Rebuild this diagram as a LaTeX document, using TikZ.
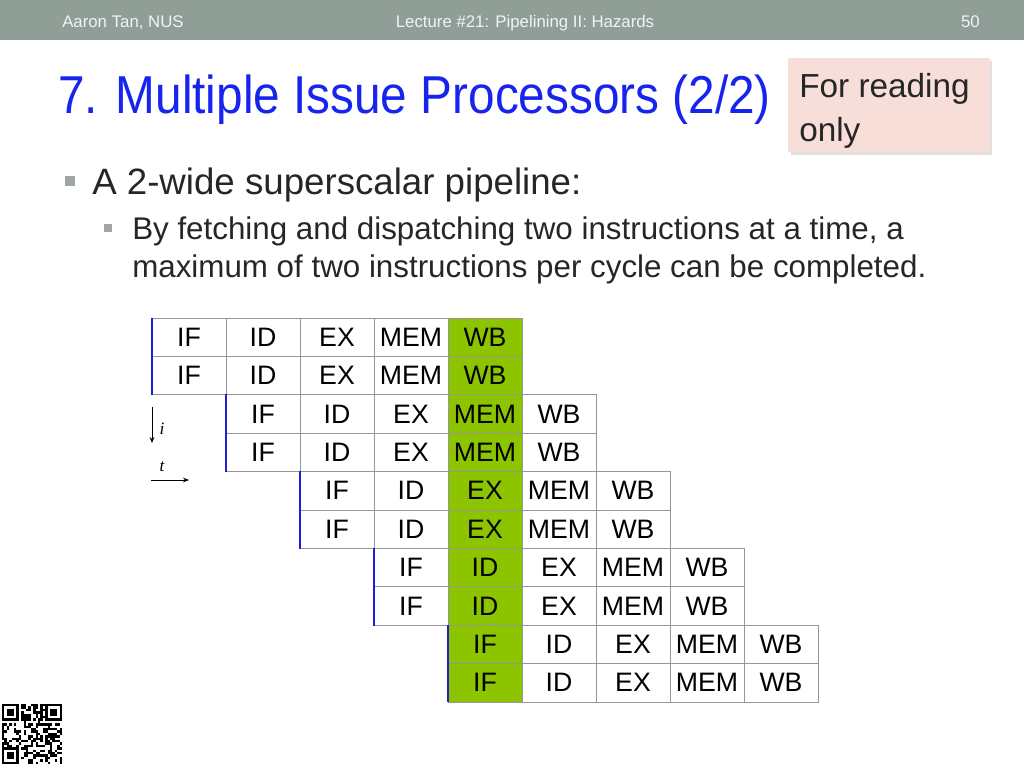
\documentclass[tikz,border=0pt]{standalone}
\usepackage{fontspec}
\setmainfont{Liberation Sans}
\newfontfamily\serifit{Liberation Serif}
\usetikzlibrary{arrows.meta}
\definecolor{hdrgray}{RGB}{143,158,150}
\definecolor{hdrtxt}{RGB}{242,244,243}
\definecolor{titleblue}{RGB}{22,36,238}
\definecolor{bodytxt}{RGB}{38,38,38}
\definecolor{bulletgray}{RGB}{160,166,163}
\definecolor{pinkbox}{RGB}{247,222,217}
\definecolor{stagegreen}{RGB}{140,196,0}
\definecolor{edgeblue}{RGB}{30,30,210}
\definecolor{gridgray}{RGB}{150,150,150}
\begin{document}
\begin{tikzpicture}[x=0.75pt,y=-0.75pt,
  hdrtext/.style={text=hdrtxt,font=\fontsize{12.6}{14}\selectfont,inner sep=0pt},
  bodyline/.style={text=bodytxt,inner sep=0pt,anchor=base west},
  cell/.style={draw=gridgray,line width=0.6pt,minimum width=55.5pt,minimum height=28.8pt,inner sep=0pt,font=\fontsize{20}{24}\selectfont,text=black},
  blueedge/.style={draw=edgeblue,line width=1.6pt},
  timearrow/.style={draw=black,line width=0.6pt,-{Stealth[length=4.5pt,width=3.5pt]}},
  axislabel/.style={font=\serifit\itshape\fontsize{13}{14}\selectfont,inner sep=0pt}]
\useasboundingbox (0,0) rectangle (1024,768);
% header bar
\fill[hdrgray] (0,0) rectangle (1024,40);
\node[hdrtext,anchor=base west] (author) at (62,27) {Aaron Tan, NUS};
\node[hdrtext,anchor=base] (lecture) at (525,27) {Lecture \#21: Pipelining II: Hazards};
\node[hdrtext,anchor=base east] (page) at (980,27) {50};
% title
\node[anchor=base west,inner sep=0pt,text=titleblue,font=\fontsize{40}{46}\selectfont] (title) at (58,113) {\scalebox{0.895}[1]{7. Multiple Issue Processors (2/2)}};
% reading box
\fill[black!12] (791,61) rectangle (992,155);
\fill[pinkbox] (788,58) rectangle (990,152);
\node[bodyline,font=\fontsize{25}{30}\selectfont] (read1) at (799,97) {For reading};
\node[bodyline,font=\fontsize{25}{30}\selectfont] (read2) at (799,141) {only};
% bullets
\fill[bulletgray] (65,176) rectangle (75,186);
\node[bodyline,font=\fontsize{27.5}{32}\selectfont] (b1) at (92,194) {A 2-wide superscalar pipeline:};
\fill[bulletgray] (104,224) rectangle (112,232);
\node[bodyline,font=\fontsize{23.5}{28}\selectfont] (b2a) at (132,239) {By fetching and dispatching two instructions at a time, a};
\node[bodyline,font=\fontsize{23.5}{28}\selectfont] (b2b) at (132,277) {maximum of two instructions per cycle can be completed.};
% pipeline table
\foreach \r in {0,...,9}{
  \pgfmathtruncatemacro\k{int(\r/2)}
  \foreach \s [count=\i from 0] in {IF,ID,EX,MEM,WB}{
    \pgfmathtruncatemacro\c{\k+\i}
    \ifnum\c=4 \def\cellfill{stagegreen}\else\def\cellfill{white}\fi
    \node[cell,fill=\cellfill] (c\r-\c) at ({152+74*\c+37},{318+38.4*\r+19.2}) {\s};
  }
}
\foreach \k in {0,...,4}{
  \pgfmathtruncatemacro\ra{2*\k}
  \pgfmathtruncatemacro\rb{2*\k+1}
  \draw[blueedge] (c\ra-\k.north west) -- (c\rb-\k.south west);
}
% axis arrows
\coordinate (itop) at (152,407);
\coordinate (ibot) at (152,443);
\draw[timearrow] (itop) -- (ibot);
\node[axislabel] (ilab) at (162,429) {i};
\coordinate (tleft) at (151,480);
\coordinate (tright) at (189,480);
\draw[timearrow] (tleft) -- (tright);
\node[axislabel] (tlab) at (162,467) {t};
% QR code
\begin{scope}
\pgfmathsetseed{4242}
\foreach \a in {0,...,24}{
  \foreach \b in {0,...,24}{
    \pgfmathtruncatemacro\q{rnd<0.5?1:0}
    \ifnum\q=1 \fill[black] ({2+2.4*\a},{704+2.4*\b}) rectangle ++(2.4,2.4);\fi
  }
}
\foreach \ox/\oy in {2/704, 45.2/704, 2/747.2}{
  \fill[white] ({\ox-0.1},{\oy-0.1}) rectangle ++(19.4,19.4);
  \fill[black] (\ox,\oy) rectangle ++(16.8,16.8);
  \fill[white] ({\ox+2.4},{\oy+2.4}) rectangle ++(12,12);
  \fill[black] ({\ox+4.8},{\oy+4.8}) rectangle ++(7.2,7.2);
}
\end{scope}
\end{tikzpicture}
\end{document}
